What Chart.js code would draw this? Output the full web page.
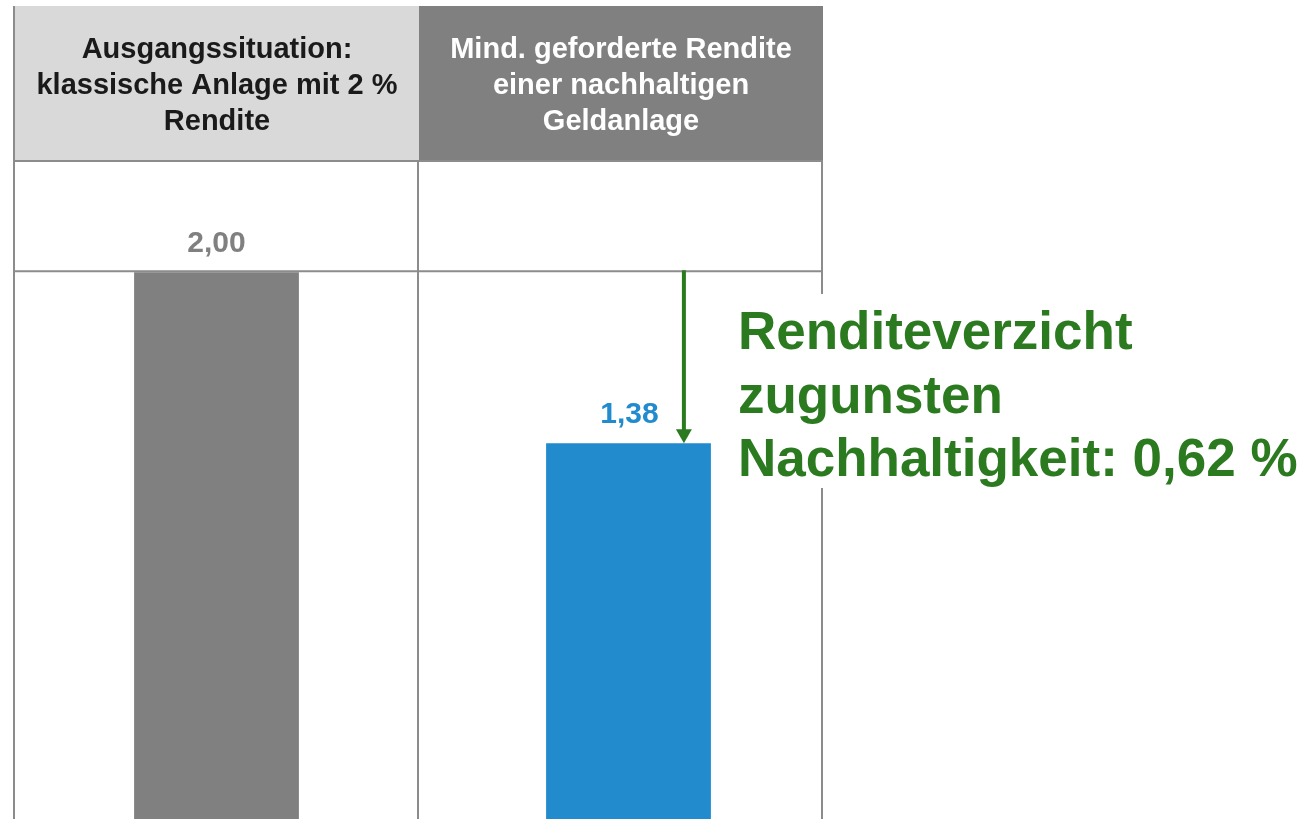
<!DOCTYPE html>
<html>
<head>
<meta charset="utf-8">
<script src="https://cdn.jsdelivr.net/npm/chart.js@4"></script>
<style>
  html, body { margin: 0; padding: 0; background: #fff; overflow: hidden; }
  #wrap { width: 1316px; height: 819px; overflow: hidden; }
</style>
</head>
<body>
<div id="wrap"><canvas id="bar" width="1316" height="830"></canvas></div>
<script>
// Daten
const categories = [
    ["Ausgangssituation:", "klassische Anlage mit 2 %", "Rendite"],
    ["Mind. geforderte Rendite", "einer nachhaltigen", "Geldanlage"]
];
const values = [2.00, 1.38];
const barColors = ["#808080", "#228bcd"];
const headerFills = ["#d9d9d9", "#808080"];
const headerText = ["#1a1a1a", "#ffffff"];
const noteLines = ["Renditeverzicht", "zugunsten", "Nachhaltigkeit: "];

const FONT = "'Liberation Sans', Arial, sans-serif";
const LINE = "#8c8c8c";
const GREEN = "#2b7a20";

function fmt(v) {
    return v.toFixed(2).replace(".", ",");
}

// Tabelle, Kopfzeilen, Beschriftungen
const tablePlugin = {
    id: "table",
    beforeDatasetsDraw(chart) {
        const c = chart.ctx;
        const xs = [14, 418, 822];
        c.save();
        // Kopfzeilen
        for (let i = 0; i < 2; i++) {
            c.fillStyle = headerFills[i];
            c.fillRect(xs[i] + 1, 6, xs[i + 1] - xs[i], 154);
            c.fillStyle = headerText[i];
            c.font = "bold 29px " + FONT;
            c.textAlign = "center";
            c.textBaseline = "middle";
            const cx = (xs[i] + xs[i + 1]) / 2 + 1;
            categories[i].forEach((t, k) => c.fillText(t, cx, 50 + k * 36));
        }
        c.strokeStyle = LINE;
        c.lineWidth = 2;
        c.beginPath();
        c.moveTo(14, 6); c.lineTo(14, 830);
        c.moveTo(418, 160); c.lineTo(418, 830);
        c.moveTo(822, 160); c.lineTo(822, 830);
        c.moveTo(14, 161); c.lineTo(822, 161);
        const y2 = chart.scales.y.getPixelForValue(values[0]) - 1;
        c.moveTo(14, y2); c.lineTo(822, y2);
        c.stroke();
        c.restore();
    },
    afterDatasetsDraw(chart) {
        const c = chart.ctx;
        const meta = chart.getDatasetMeta(0);
        const y = chart.scales.y;
        c.save();
        // Werte über den Balken
        c.textAlign = "center";
        c.textBaseline = "middle";
        meta.data.forEach((bar, i) => {
            c.fillStyle = barColors[i];
            c.font = "bold 30px " + FONT;
            c.fillText(fmt(values[i]), bar.x + (i ? 1 : 0), bar.y - 29);
        });
        // Pfeil
        const b = meta.data[1];
        const ax = b.x + b.width / 2 - 27;
        const yTop = y.getPixelForValue(values[0]) - 2;
        const yBot = y.getPixelForValue(values[1]);
        c.strokeStyle = GREEN;
        c.fillStyle = GREEN;
        c.lineWidth = 4;
        c.beginPath();
        c.moveTo(ax, yTop);
        c.lineTo(ax, yBot - 12);
        c.stroke();
        c.beginPath();
        c.moveTo(ax - 8, yBot - 14);
        c.lineTo(ax + 8, yBot - 14);
        c.lineTo(ax, yBot);
        c.closePath();
        c.fill();
        // Text
        c.fillStyle = "#ffffff";
        c.fillRect(ax + 40, 294, 1316 - ax - 40, 194);
        c.fillStyle = GREEN;
        c.font = "bold 53px " + FONT;
        c.textAlign = "left";
        c.textBaseline = "alphabetic";
        const lines = noteLines.slice();
        lines[2] += fmt(values[0] - values[1]) + " %";
        lines.forEach((t, k) => c.fillText(t, ax + 54, 349 + k * 63.5));
        c.restore();
    }
};

const barChart = new Chart(document.getElementById("bar").getContext("2d"), {
    type: "bar",
    data: {
        labels: categories,
        datasets: [{
            data: values,
            backgroundColor: barColors,
            borderWidth: 0,
            barPercentage: 0.4,
            categoryPercentage: 1
        }]
    },
    options: {
        responsive: false,
        animation: false,
        layout: { padding: { left: 10.5, right: 481.5, top: 24, bottom: 6 } },
        plugins: { legend: { display: false }, tooltip: { enabled: false } },
        scales: {
            x: { display: false },
            y: { display: false, min: 0, max: 2.9 }
        }
    },
    plugins: [tablePlugin]
});
</script>
</body>
</html>
